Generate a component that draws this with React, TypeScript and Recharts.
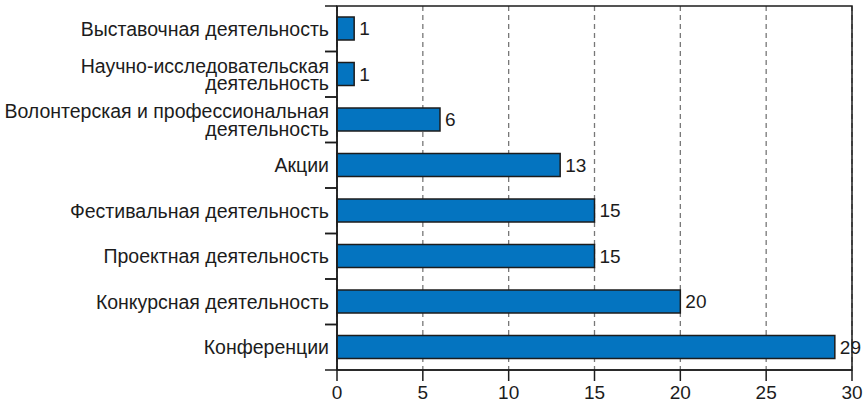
import { BarChart, Bar, XAxis, YAxis, CartesianGrid, LabelList, ReferenceArea } from 'recharts'

const categories = [
  'Выставочная деятельность',
  'Научно-исследовательская\nдеятельность',
  'Волонтерская и профессиональная\nдеятельность',
  'Акции',
  'Фестивальная деятельность',
  'Проектная деятельность',
  'Конкурсная деятельность',
  'Конференции',
]
const counts = [1, 1, 6, 13, 15, 15, 20, 29]
const xTicks = [0, 5, 10, 15, 20, 25, 30]

const data = categories.map((name, i) => ({ name, value: counts[i] }))

const W = 867
const H = 407
const TOP = 6
const AXIS_H = 37
const band = (H - TOP - AXIS_H) / categories.length
const FONT = 'Arial, "Liberation Sans", sans-serif'
const INK = '#1c1c1c'

function CategoryTick(props: any) {
  const { x, y, payload } = props
  const lines = String(payload.value).split('\n')
  const lh = 17.5
  const start = y - ((lines.length - 1) * lh) / 2
  return (
    <g>
      <line x1={x - 12} x2={x} y1={y - band / 2} y2={y - band / 2} stroke={INK} strokeWidth={1.5} />
      <line x1={x - 12} x2={x} y1={y + band / 2} y2={y + band / 2} stroke={INK} strokeWidth={1.5} />
      <text x={x - 8} y={start} textAnchor="end" fontSize={19.5} fill={INK} style={{ fontFamily: FONT }}>
        {lines.map((l, i) => (
          <tspan key={i} x={x - 8} y={start + i * lh} dy="0.36em">
            {l}
          </tspan>
        ))}
      </text>
    </g>
  )
}

export default function App() {
  return (
    <div style={{ position: 'absolute', left: 0, top: 0, background: '#fff', fontFamily: FONT }}>
      <BarChart
        width={W}
        height={H}
        data={data}
        layout="vertical"
        margin={{ top: TOP, right: 15, bottom: 0, left: 0 }}
        barSize={23}
        style={{ fontFamily: FONT }}
      >
        <CartesianGrid horizontal={false} stroke="#777" strokeDasharray="5 4" strokeWidth={1.3} />
        <XAxis
          type="number"
          domain={[0, 30]}
          ticks={xTicks}
          height={AXIS_H}
          tickSize={11}
          tickMargin={5}
          stroke={INK}
          strokeWidth={1.5}
          tick={{ fontSize: 19, fill: INK, fontFamily: FONT }}
          interval={0}
        />
        <YAxis
          type="category"
          dataKey="name"
          width={337}
          tickLine={false}
          tickSize={0}
          tickMargin={0}
          axisLine={{ stroke: INK, strokeWidth: 1.5 }}
          tick={<CategoryTick />}
          interval={0}
        />
        <Bar dataKey="value" fill="#0474C0" stroke={INK} strokeWidth={1.5} isAnimationActive={false}>
          <LabelList dataKey="value" position="right" offset={5} fill={INK} fontSize={19} fontFamily={FONT} />
        </Bar>
        <ReferenceArea x1={0} x2={30} fill="none" fillOpacity={0} stroke={INK} strokeWidth={1.5} />
      </BarChart>
    </div>
  )
}
